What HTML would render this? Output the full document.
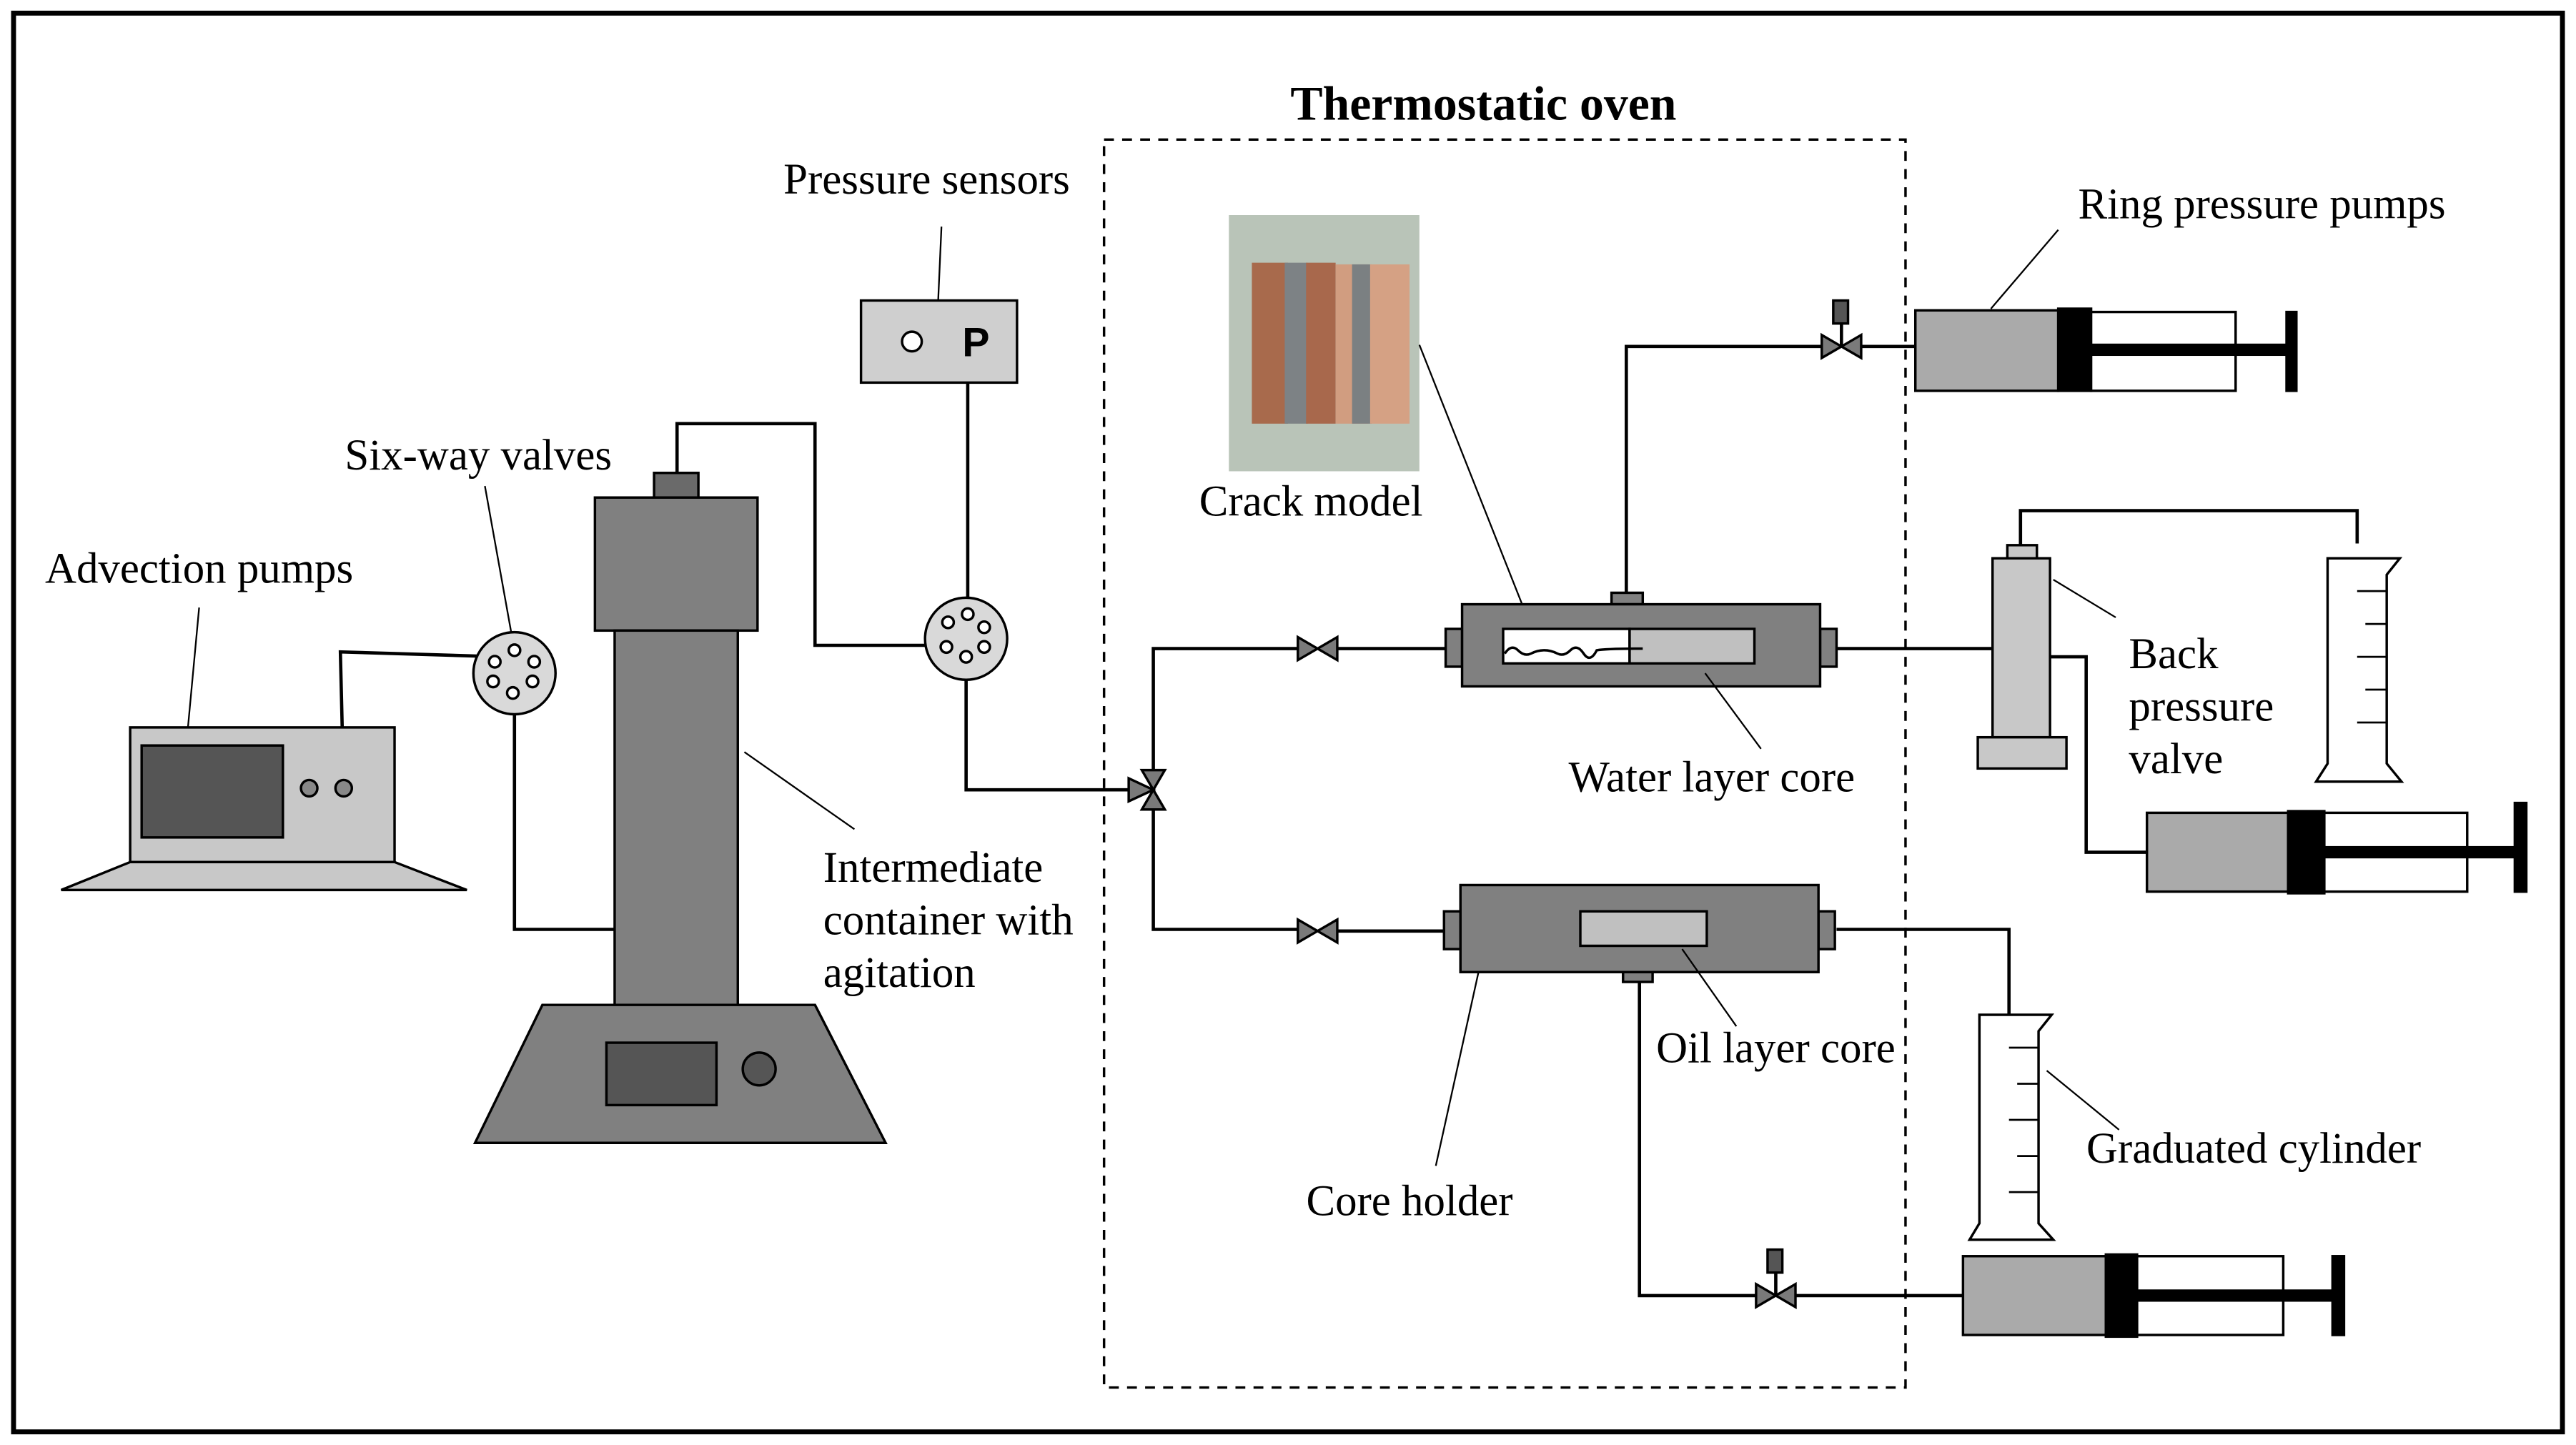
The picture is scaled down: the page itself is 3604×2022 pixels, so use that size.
<!DOCTYPE html>
<html><head><meta charset="utf-8"><style>
html,body{margin:0;padding:0;background:#fff;}
svg{display:block;}
text{font-family:"Liberation Serif",serif;font-size:26.5px;fill:#000;}
</style></head><body>
<svg width="3604" height="2022" viewBox="0 0 1568 880" xmlns="http://www.w3.org/2000/svg">
<defs>
<g id="valve"><polygon points="-12,-7 -12,7 0,0" fill="#7a7a7a" stroke="#000" stroke-width="1.5"/><polygon points="12,-7 12,7 0,0" fill="#7a7a7a" stroke="#000" stroke-width="1.5"/></g>
</defs>
<rect x="8" y="8" width="1552" height="864" fill="#fff" stroke="#000" stroke-width="3"/>
<text x="903" y="73" text-anchor="middle" style="font-weight:bold;font-size:29.5px">Thermostatic oven</text>
<rect x="672" y="85" width="488" height="760" fill="none" stroke="#000" stroke-width="1.5" stroke-dasharray="6,5"/>

<!-- crack model photo -->
<rect x="748" y="131" width="116" height="156" fill="#b9c4b8"/>
<rect x="762" y="160" width="22" height="98" fill="#a86a4c"/>
<rect x="782" y="160" width="14" height="98" fill="#7d8285"/>
<rect x="795" y="160" width="18" height="98" fill="#a8684c"/>
<rect x="813" y="161" width="20" height="97" fill="#d19d80"/>
<rect x="823" y="161" width="12" height="97" fill="#7b8082"/>
<rect x="834" y="161" width="24" height="97" fill="#d5a184"/>
<text x="798" y="314" text-anchor="middle">Crack model</text>
<line x1="864" y1="210" x2="940" y2="402" stroke="#000" stroke-width="1"/>

<!-- pressure sensor -->
<text x="564" y="118" text-anchor="middle">Pressure sensors</text>
<line x1="573" y1="138" x2="571" y2="183" stroke="#000" stroke-width="1"/>
<rect x="524" y="183" width="95" height="50" fill="#cfcfcf" stroke="#000" stroke-width="1.5"/>
<circle cx="555" cy="208" r="6" fill="#fff" stroke="#000" stroke-width="1.5"/>
<text x="594" y="217" text-anchor="middle" style="font-family:'Liberation Sans',sans-serif;font-weight:bold;font-size:25px">P</text>

<g fill="none" stroke="#000" stroke-width="2">
<polyline points="589,233 589,370"/>
<polyline points="588,410 588,481 690,481"/>
<polyline points="209,480 207,397 305,400"/>
<polyline points="313,420 313,566 374,566"/>
<polyline points="412,288 412,258 496,258 496,393 576,393"/>
<polyline points="702,470 702,395 790,395"/>
<line x1="814" y1="395" x2="880" y2="395"/>
<polyline points="702,492 702,566 790,566"/>
<line x1="814" y1="567" x2="880" y2="567"/>
<polyline points="990,361 990,211 1110,211"/>
<line x1="1132" y1="211" x2="1166" y2="211"/>
<line x1="1118" y1="395" x2="1213" y2="395"/>
<polyline points="1230,332 1230,311 1435,311 1435,331"/>
<polyline points="1248,400 1270,400 1270,519 1307,519"/>
<polyline points="1118,566 1223,566 1223,618"/>
<polyline points="998,598 998,789 1070,789"/>
<line x1="1092" y1="789" x2="1195" y2="789"/>
<line x1="1121" y1="197" x2="1121" y2="211"/>
<line x1="1081" y1="775" x2="1081" y2="789"/>
</g>

<!-- six-way valves -->
<text x="291" y="286" text-anchor="middle">Six-way valves</text>
<line x1="295" y1="296" x2="311" y2="385" stroke="#000" stroke-width="1"/>
<g stroke="#000" stroke-width="1.5">
<circle cx="313" cy="410" r="25" fill="#d9d9d9"/>
<g fill="#fff"><circle cx="313" cy="396" r="3.5"/><circle cx="301" cy="403" r="3.5"/><circle cx="325" cy="403" r="3.5"/><circle cx="300" cy="415" r="3.5"/><circle cx="324" cy="415" r="3.5"/><circle cx="312" cy="422" r="3.5"/></g>
<circle cx="588" cy="389" r="25" fill="#d9d9d9"/>
<g fill="#fff"><circle cx="589" cy="374" r="3.5"/><circle cx="577" cy="379" r="3.5"/><circle cx="599" cy="382" r="3.5"/><circle cx="576" cy="394" r="3.5"/><circle cx="599" cy="394" r="3.5"/><circle cx="588" cy="400" r="3.5"/></g>
</g>

<!-- advection pump -->
<text x="121" y="355" text-anchor="middle">Advection pumps</text>
<line x1="121" y1="370" x2="114" y2="445" stroke="#000" stroke-width="1"/>
<g stroke="#000" stroke-width="1.5">
<rect x="79" y="443" width="161" height="82" fill="#c8c8c8"/>
<rect x="86" y="454" width="86" height="56" fill="#555"/>
<circle cx="188" cy="480" r="5" fill="#888"/>
<circle cx="209" cy="480" r="5" fill="#888"/>
<polygon points="79,525 240,525 284,542 37,542" fill="#c8c8c8"/>
</g>

<!-- intermediate container -->
<g stroke="#000" stroke-width="1.5" fill="#808080">
<rect x="398" y="288" width="27" height="15" fill="#6a6a6a"/>
<rect x="362" y="303" width="99" height="81"/>
<rect x="374" y="384" width="75" height="228"/>
<polygon points="330,612 496,612 539,696 289,696"/>
<rect x="369" y="635" width="67" height="38" fill="#555"/>
<circle cx="462" cy="651" r="10" fill="#555"/>
</g>
<line x1="453" y1="458" x2="520" y2="505" stroke="#000" stroke-width="1"/>
<text x="501" y="537">Intermediate</text>
<text x="501" y="569">container with</text>
<text x="501" y="601">agitation</text>

<!-- three-way valve -->
<g stroke="#000" stroke-width="1.5" fill="#7a7a7a">
<polygon points="695,469 709,469 702,481"/>
<polygon points="695,493 709,493 702,481"/>
<polygon points="687,474 687,488 702,481"/>
</g>
<use href="#valve" x="802" y="395"/>
<use href="#valve" x="802" y="567"/>
<use href="#valve" x="1121" y="211"/>
<use href="#valve" x="1081" y="789"/>
<rect x="1116" y="183" width="9" height="14" fill="#555" stroke="#000" stroke-width="1.5"/>
<rect x="1076" y="761" width="9" height="14" fill="#555" stroke="#000" stroke-width="1.5"/>

<!-- water core holder -->
<g stroke="#000" stroke-width="1.5">
<rect x="981" y="361" width="19" height="7" fill="#808080"/>
<rect x="880" y="383" width="10" height="23" fill="#808080"/>
<rect x="1108" y="383" width="10" height="23" fill="#808080"/>
<rect x="890" y="368" width="218" height="50" fill="#808080"/>
<rect x="915" y="383" width="77" height="21" fill="#fff"/>
<rect x="992" y="383" width="76" height="21" fill="#c0c0c0"/>
</g>
<path d="M916,398 q4,-6 8,-2 t8,2 t8,-2 t8,2 t8,-2 t8,2 t8,-2 q6,-1 28,-1" fill="none" stroke="#000" stroke-width="1.5"/>
<line x1="1038" y1="410" x2="1072" y2="456" stroke="#000" stroke-width="1"/>
<text x="1042" y="482" text-anchor="middle">Water layer core</text>

<!-- oil core holder -->
<g stroke="#000" stroke-width="1.5">
<rect x="988" y="592" width="18" height="6" fill="#808080"/>
<rect x="879" y="555" width="10" height="23" fill="#808080"/>
<rect x="1107" y="555" width="10" height="23" fill="#808080"/>
<rect x="889" y="539" width="218" height="53" fill="#808080"/>
<rect x="962" y="555" width="77" height="21" fill="#c0c0c0"/>
</g>
<line x1="1024" y1="578" x2="1057" y2="625" stroke="#000" stroke-width="1"/>
<text x="1081" y="647" text-anchor="middle">Oil layer core</text>
<line x1="874" y1="710" x2="900" y2="592" stroke="#000" stroke-width="1"/>
<text x="858" y="740" text-anchor="middle">Core holder</text>

<!-- syringes -->
<g stroke="#000" stroke-width="1.5">
<rect x="1166" y="189" width="87" height="49" fill="#aaa"/>
<rect x="1253" y="188" width="20" height="50" fill="#000"/>
<rect x="1273" y="190" width="88" height="48" fill="#fff"/>
<rect x="1273" y="210" width="119" height="6" fill="#000"/>
<rect x="1392" y="190" width="6" height="48" fill="#000"/>

<rect x="1307" y="495" width="86" height="48" fill="#aaa"/>
<rect x="1393" y="494" width="22" height="50" fill="#000"/>
<rect x="1415" y="495" width="87" height="48" fill="#fff"/>
<rect x="1415" y="516" width="116" height="6" fill="#000"/>
<rect x="1531" y="489" width="7" height="54" fill="#000"/>

<rect x="1195" y="765" width="87" height="48" fill="#aaa"/>
<rect x="1282" y="764" width="19" height="50" fill="#000"/>
<rect x="1301" y="765" width="89" height="48" fill="#fff"/>
<rect x="1301" y="786" width="119" height="6" fill="#000"/>
<rect x="1420" y="765" width="7" height="48" fill="#000"/>
</g>
<text x="1377" y="133" text-anchor="middle">Ring pressure pumps</text>
<line x1="1253" y1="140" x2="1212" y2="188" stroke="#000" stroke-width="1"/>

<!-- back pressure valve -->
<g stroke="#000" stroke-width="1.5" fill="#c8c8c8">
<rect x="1222" y="332" width="18" height="8"/>
<rect x="1213" y="340" width="35" height="109"/>
<rect x="1204" y="449" width="54" height="19"/>
</g>
<line x1="1250" y1="353" x2="1288" y2="376" stroke="#000" stroke-width="1"/>
<text x="1296" y="407">Back</text>
<text x="1296" y="439">pressure</text>
<text x="1296" y="471">valve</text>

<!-- graduated cylinders -->
<g stroke="#000" stroke-width="1.5" fill="#fff">
<path d="M1417,340 L1417,465 L1410,476 L1462,476 L1453,465 L1453,350 L1461,340 Z"/>
<path d="M1205,618 L1205,745 L1199,755 L1250,755 L1241,745 L1241,628 L1249,618 Z"/>
</g>
<g stroke="#000" stroke-width="1.2">
<line x1="1435" y1="360" x2="1453" y2="360"/><line x1="1440" y1="380" x2="1453" y2="380"/><line x1="1435" y1="400" x2="1453" y2="400"/><line x1="1440" y1="420" x2="1453" y2="420"/><line x1="1435" y1="440" x2="1453" y2="440"/>
<line x1="1223" y1="638" x2="1241" y2="638"/><line x1="1228" y1="660" x2="1241" y2="660"/><line x1="1223" y1="682" x2="1241" y2="682"/><line x1="1228" y1="704" x2="1241" y2="704"/><line x1="1223" y1="726" x2="1241" y2="726"/>
</g>
<line x1="1246" y1="652" x2="1290" y2="688" stroke="#000" stroke-width="1"/>
<text x="1372" y="708" text-anchor="middle">Graduated cylinder</text>
</svg>
</body></html>
